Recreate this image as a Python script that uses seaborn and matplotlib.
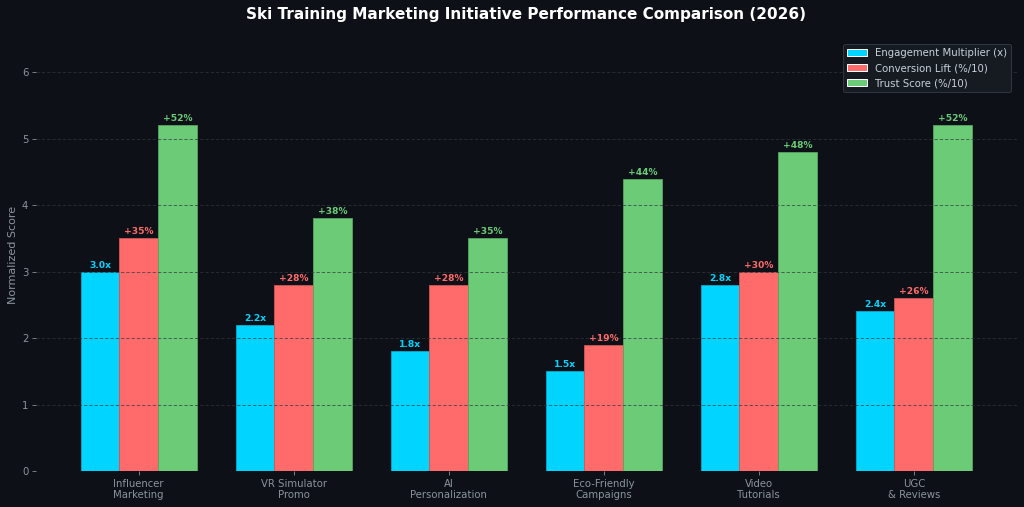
import matplotlib
matplotlib.use("Agg")
import matplotlib.pyplot as plt
import seaborn as sns
import pandas as pd
import numpy as np
from matplotlib.colors import to_rgb

categories = ["Influencer\nMarketing", "VR Simulator\nPromo", "AI\nPersonalization",
              "Eco-Friendly\nCampaigns", "Video\nTutorials", "UGC\n& Reviews"]
series_names = ["Engagement Multiplier (x)", "Conversion Lift (%/10)", "Trust Score (%/10)"]
engagement = [3.0, 2.2, 1.8, 1.5, 2.8, 2.4]
conversion = [3.5, 2.8, 2.8, 1.9, 3.0, 2.6]
trust = [5.2, 3.8, 3.5, 4.4, 4.8, 5.2]
engagement_labels = ["3.0x", "2.2x", "1.8x", "1.5x", "2.8x", "2.4x"]
conversion_labels = ["+35%", "+28%", "+28%", "+19%", "+30%", "+26%"]
trust_labels = ["+52%", "+38%", "+35%", "+44%", "+48%", "+52%"]
colors = ["#00d4ff", "#ff6b6b", "#6bcb77"]

bg = "#0d1117"
rows = []
for name, vals in zip(series_names, [engagement, conversion, trust]):
    for c, v in zip(categories, vals):
        rows.append({"Initiative": c, "Series": name, "Score": v})
df = pd.DataFrame(rows)

sns.set_theme(style="dark")
plt.rcParams['font.family'] = ['DejaVu Sans']

fig, ax = plt.subplots(figsize=(14, 6.932), dpi=73.143)
fig.patch.set_facecolor(bg)
ax.set_facecolor(bg)

sns.barplot(data=df, x="Initiative", y="Score", hue="Series", order=categories,
            hue_order=series_names, palette=colors, width=0.75, gap=0,
            saturation=1, ax=ax, errorbar=None)

all_labels = [engagement_labels, conversion_labels, trust_labels]
for cont, col, labs in zip(ax.containers, colors, all_labels):
    r, g, b = to_rgb(col)
    dark = (r * 0.82, g * 0.82, b * 0.82)
    for p in cont:
        p.set_edgecolor(dark)
        p.set_linewidth(0.8)
        p.set_zorder(2)
    ax.bar_label(cont, labels=labs, color=col, fontsize=9, fontweight="bold", padding=2)

ax.set_xlim(-0.6625, 5.6625)
ax.set_ylim(0, 6.5)
ax.set_yticks([0, 1, 2, 3, 4, 5, 6])
ax.grid(True, axis="y", linestyle=(0, (4, 2.5)), color="#30363d", alpha=0.85,
        linewidth=0.8, zorder=3)
ax.grid(False, axis="x")
ax.set_axisbelow(False)
for s in ax.spines.values():
    s.set_visible(False)

ax.tick_params(axis="both", colors="#8b949e", labelsize=10, length=4, width=0.8,
               bottom=True, left=True)
ax.set_xlabel("")
ax.set_ylabel("Normalized Score", color="#8b949e", fontsize=11)
ax.set_title("Ski Training Marketing Initiative Performance Comparison (2026)",
             color="white", fontsize=15, fontweight="bold", pad=20)

leg = ax.legend(loc="upper right", fontsize=10, facecolor="#161b22", edgecolor="#30363d",
                framealpha=1.0)
for t in leg.get_texts():
    t.set_color("#c9d1d9")

fig.subplots_adjust(left=0.0352, right=0.9927, top=0.923, bottom=0.071)
fig.savefig("out.png", dpi=73.143, facecolor=bg)
